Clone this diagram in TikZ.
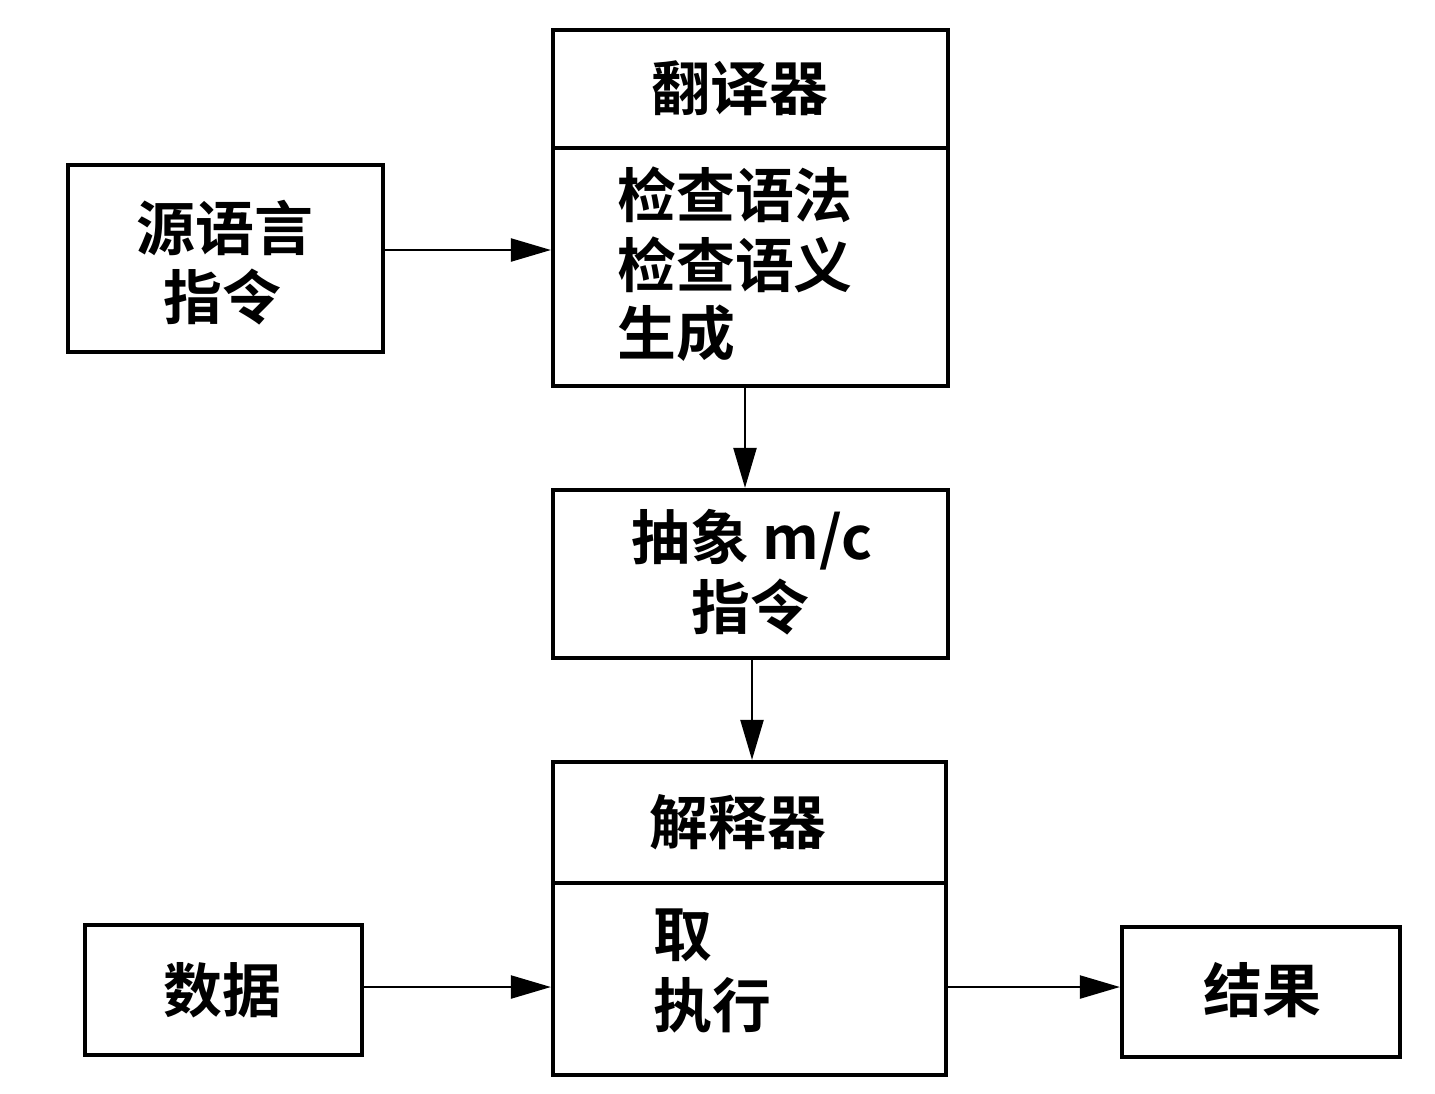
\documentclass[tikz,border=0pt]{standalone}
\usepackage{fontspec}
\newfontfamily\cjk{Noto Sans CJK SC Bold}
\usetikzlibrary{arrows.meta}
\begin{document}
\begin{tikzpicture}[x=0.02cm,y=-0.02cm,
  box/.style={draw,line width=2.4pt,inner sep=0pt},
  lbl/.style={font=\cjk\fontsize{33.5}{40}\selectfont,inner sep=0pt},
  flow/.style={line width=1.3pt,-{Triangle[length=0.8cm,width=0.46cm]}}]
\useasboundingbox (0,0) rectangle (1435,1093);
% boxes
\node[box,minimum width=315*0.02cm,minimum height=187*0.02cm] (src) at (225.5,258.5) {};
\node[box,minimum width=395*0.02cm,minimum height=356*0.02cm] (trans) at (750.5,208) {};
\draw[line width=2.4pt] (553,148) -- (948,148);
\node[box,minimum width=395*0.02cm,minimum height=168*0.02cm] (abs) at (750.5,574) {};
\node[box,minimum width=393*0.02cm,minimum height=313*0.02cm] (interp) at (749.5,918.5) {};
\draw[line width=2.4pt] (553,883) -- (946,883);
\node[box,minimum width=277*0.02cm,minimum height=130*0.02cm] (data) at (223.5,990) {};
\node[box,minimum width=278*0.02cm,minimum height=130*0.02cm] (res) at (1261,992) {};
% labels
\node[lbl] (t1) at (225,228) {源语言};
\node[lbl] (t2) at (222,297) {指令};
\node[lbl] (t3) at (740,88) {翻译器};
\node[lbl,anchor=west] (t4) at (617,195) {检查语法};
\node[lbl,anchor=west] (t5) at (617,265) {检查语义};
\node[lbl,anchor=west] (t6) at (617,333) {生成};
\node[lbl] (t7) at (752,540) {抽象 m/c};
\node[lbl] (t8) at (750,607) {指令};
\node[lbl] (t9) at (738,822) {解释器};
\node[lbl,anchor=west] (t10) at (653,935) {取};
\node[lbl,anchor=west] (t11) at (653,1005) {执行};
\node[lbl] (t12) at (222,990) {数据};
\node[lbl] (t13) at (1262,990) {结果};
% connectors
\draw[flow] (src.east |- 0,250) -- (trans.west |- 0,250);
\draw[flow] (trans.south -| 745,0) -- (abs.north -| 745,0);
\draw[flow] (abs.south -| 752,0) -- (interp.north -| 752,0);
\draw[flow] (data.east |- 0,987) -- (interp.west |- 0,987);
\draw[flow] (interp.east |- 0,987) -- (res.west |- 0,987);
\end{tikzpicture}
\end{document}
